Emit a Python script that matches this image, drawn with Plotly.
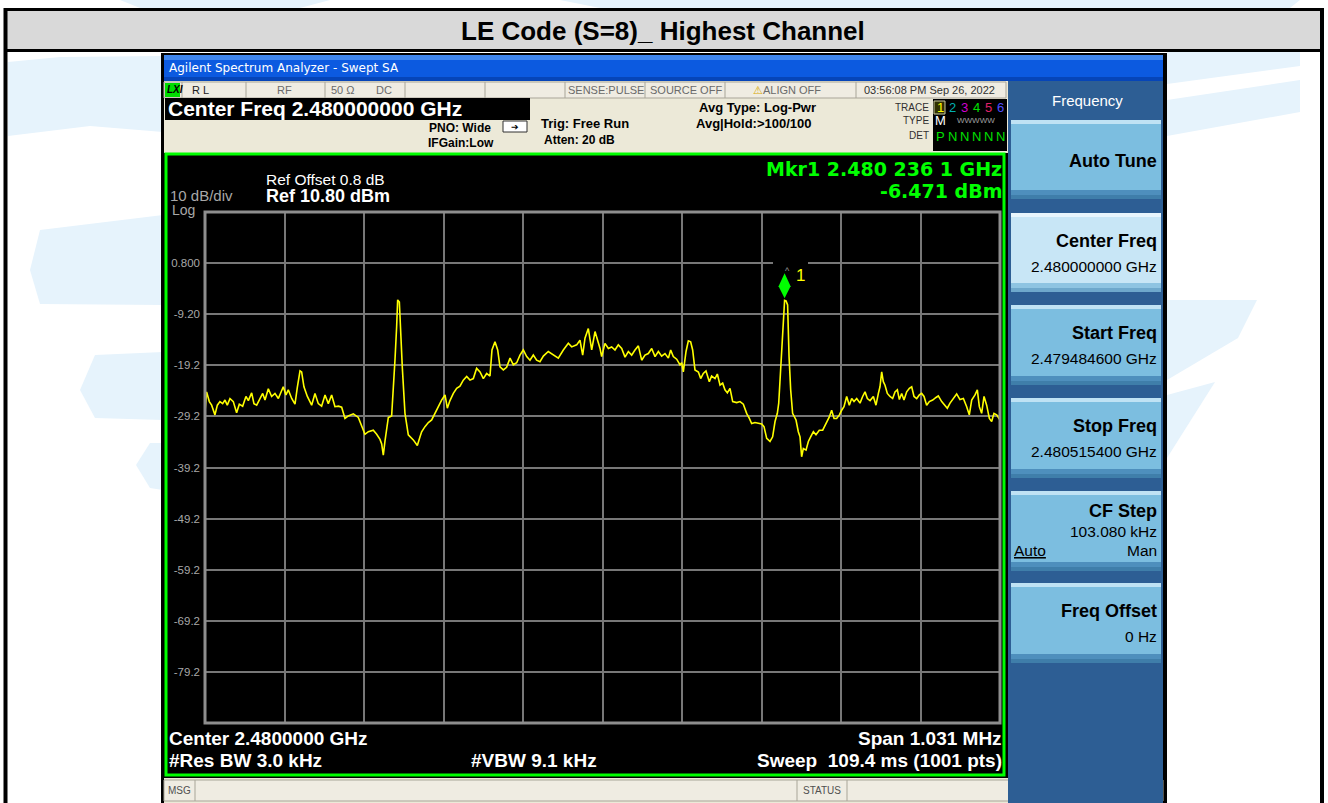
import plotly.graph_objects as go

# ---------------- data ----------------
center_freq_ghz = 2.48
span_khz = 1030.8
ref_level_dbm = 10.8
db_per_div = 10

freq_offset_khz = [
    -515.4, -513.3, -509.8, -506.8, -502.5, -499.4, -496.0, -492.5, -489.5, -486.5,
    -483.0, -478.7, -474.4, -470.9, -466.6, -462.3, -459.2, -454.9, -451.9, -448.4,
    -444.1, -440.6, -437.6, -433.3, -429.0, -424.7, -420.3, -413.9, -410.4, -407.4,
    -403.0, -398.7, -395.7, -392.2, -390.1, -387.1, -382.7, -377.1, -372.8, -368.5,
    -364.2, -359.8, -355.5, -351.2, -346.9, -342.5, -338.2, -333.9, -329.6, -323.1,
    -316.6, -313.6, -308.0, -303.6, -297.2, -292.8, -288.5, -286.3, -284.2, -282.0,
    -277.7, -273.4, -271.2, -269.1, -266.9, -265.6, -263.4, -261.7, -259.5, -256.1,
    -251.8, -245.3, -240.1, -236.6, -234.5, -230.2, -225.8, -221.5, -217.2, -212.9,
    -208.6, -204.2, -201.2, -197.8, -193.4, -189.1, -184.8, -180.5, -176.1, -171.8,
    -167.5, -163.2, -158.8, -154.5, -150.2, -145.9, -143.3, -139.4, -135.9, -132.9,
    -128.6, -124.3, -119.9, -115.6, -111.3, -107.0, -102.7, -98.3, -94.0, -89.7,
    -85.4, -81.1, -76.7, -70.3, -63.8, -57.3, -50.8, -44.3, -40.0, -33.5,
    -29.2, -25.7, -22.7, -18.4, -14.0, -9.7, -5.4, -3.2, -1.1, 3.2,
    7.6, 11.9, 16.2, 20.5, 24.9, 29.2, 33.5, 37.8, 42.1, 46.5,
    50.8, 55.1, 59.4, 63.8, 68.1, 72.4, 76.7, 81.0, 85.4, 88.4,
    91.8, 96.2, 100.5, 102.7, 104.8, 108.3, 111.3, 114.3, 116.9, 119.9,
    124.3, 127.3, 130.7, 134.2, 138.5, 141.5, 145.9, 148.9, 152.4, 155.8,
    158.8, 161.9, 165.3, 168.8, 174.0, 178.3, 182.6, 186.9, 190.4, 193.4,
    197.7, 202.1, 206.4, 209.4, 212.9, 217.2, 220.6, 223.7, 226.7, 228.5,
    230.3, 232.4, 234.4, 236.1, 238.0, 240.0, 241.9, 244.0, 246.5, 250.9,
    253.9, 256.1, 258.2, 260.4, 263.9, 266.9, 269.9, 273.4, 276.8, 281.1,
    285.5, 289.8, 294.1, 297.1, 300.2, 303.6, 307.1, 310.1, 313.1, 316.6,
    320.0, 323.1, 326.1, 329.6, 333.9, 337.3, 340.4, 343.4, 346.9, 351.2,
    354.6, 357.7, 359.8, 362.0, 364.1, 366.3, 369.3, 372.8, 376.2, 379.3,
    382.3, 384.9, 387.9, 390.9, 394.4, 397.9, 400.9, 403.9, 407.4, 410.8,
    413.8, 416.9, 420.3, 423.8, 428.1, 432.4, 435.4, 439.8, 444.1, 447.1,
    450.6, 454.9, 459.2, 463.5, 467.9, 472.2, 475.6, 478.7, 483.0, 486.0,
    488.6, 491.6, 494.7, 498.1, 501.6, 504.6, 507.6, 511.1, 514.5, 515.4,
]
level_dbm = [
    -28.3, -24.4, -26.3, -27.0, -28.9, -27.0, -26.3, -26.7, -26.0, -27.0,
    -25.7, -26.3, -28.5, -26.8, -27.2, -25.3, -26.1, -24.6, -26.7, -27.0,
    -25.7, -24.7, -26.0, -23.8, -25.3, -24.7, -25.7, -23.4, -25.0, -24.0,
    -25.7, -26.8, -23.5, -20.3, -20.5, -23.4, -25.3, -27.0, -24.7, -26.7,
    -27.2, -25.0, -26.7, -25.0, -27.3, -27.2, -27.4, -29.6, -29.1, -28.7,
    -29.4, -30.6, -32.7, -32.2, -31.9, -32.7, -33.7, -34.6, -36.8, -34.0,
    -29.4, -29.1, -24.0, -18.2, -11.6, -6.4, -6.8, -14.3, -19.8, -28.6,
    -32.8, -33.8, -34.9, -33.2, -32.2, -31.2, -30.4, -29.9, -28.6, -27.3,
    -26.0, -25.0, -27.6, -26.1, -24.7, -23.7, -23.3, -22.1, -21.4, -22.1,
    -21.8, -19.8, -20.5, -21.8, -20.8, -21.3, -16.2, -14.6, -16.2, -19.5,
    -20.1, -19.6, -17.8, -19.1, -18.7, -17.2, -16.2, -17.5, -18.2, -17.2,
    -18.2, -18.5, -17.4, -16.5, -17.2, -17.8, -16.2, -14.9, -15.6, -15.2,
    -14.3, -17.2, -13.9, -12.0, -16.2, -12.6, -14.8, -15.9, -17.5, -14.9,
    -15.9, -15.6, -16.2, -15.2, -15.9, -17.6, -16.5, -17.2, -16.2, -15.4,
    -18.2, -17.2, -16.9, -15.9, -17.5, -16.5, -17.4, -16.9, -17.8, -16.2,
    -17.5, -18.0, -19.1, -18.7, -20.5, -16.5, -14.4, -14.6, -16.2, -20.1,
    -20.5, -21.8, -20.8, -20.3, -22.4, -21.3, -21.8, -20.9, -23.1, -22.7,
    -24.0, -24.6, -23.7, -26.3, -26.5, -26.3, -26.8, -28.6, -29.6, -30.6,
    -30.4, -30.6, -30.7, -31.2, -33.5, -34.1, -33.2, -30.2, -28.6, -26.6,
    -21.4, -16.9, -10.3, -6.5, -6.6, -7.4, -17.5, -24.0, -28.6, -29.9,
    -32.2, -33.2, -37.1, -35.5, -35.8, -34.1, -33.2, -32.2, -32.8, -31.9,
    -31.9, -30.7, -29.3, -28.0, -29.6, -29.6, -28.9, -28.0, -27.3, -25.3,
    -27.0, -25.7, -26.3, -25.7, -26.6, -25.3, -24.4, -25.7, -26.1, -25.3,
    -27.0, -24.7, -23.4, -20.5, -22.4, -23.1, -24.7, -25.3, -25.7, -24.4,
    -24.0, -25.9, -24.7, -26.0, -24.4, -23.7, -23.4, -25.3, -25.7, -25.0,
    -24.7, -25.3, -27.0, -26.3, -26.0, -25.5, -25.2, -26.3, -27.0, -27.6,
    -26.6, -25.7, -24.8, -25.9, -25.7, -27.3, -28.9, -26.0, -25.0, -24.0,
    -27.3, -28.6, -25.3, -27.0, -29.6, -30.2, -28.6, -28.9, -29.9, -29.9,
]
marker_freq_offset_khz = 236.1
marker_level_dbm = -6.471
y_tick_vals = [0.8, -9.2, -19.2, -29.2, -39.2, -49.2, -59.2, -69.2, -79.2]
y_tick_text = ["0.800", "-9.20", "-19.2", "-29.2", "-39.2", "-49.2", "-59.2", "-69.2", "-79.2"]

softkeys = [
    ("Auto Tune", None),
    ("Center Freq", "2.480000000 GHz"),
    ("Start Freq", "2.479484600 GHz"),
    ("Stop Freq", "2.480515400 GHz"),
    ("CF Step", "103.080 kHz"),
    ("Freq Offset", "0 Hz"),
]

# ---------------- layout geometry (pixels) ----------------
W, H = 1328, 803
PL, PR, PT, PB = 205, 1000, 212, 723


def px(x):
    return (x - PL) / (PR - PL)


def py(y):
    return (PB - y) / (PB - PT)


shapes = []
annotations = []
FONT = "Liberation Sans, Arial, sans-serif"
WIDE = "DejaVu Sans, Liberation Sans, sans-serif"


def rect(x0, y0, x1, y1, fill=None, line=None, lw=0, layer="below"):
    shapes.append(dict(
        type="rect", xref="paper", yref="paper",
        x0=px(x0), x1=px(x1), y0=py(y1), y1=py(y0),
        fillcolor=fill if fill else "rgba(0,0,0,0)",
        line=dict(color=line if line else "rgba(0,0,0,0)", width=lw),
        layer=layer))


def hline(x0, x1, y, color, lw=1, layer="below"):
    shapes.append(dict(type="line", xref="paper", yref="paper",
                       x0=px(x0), x1=px(x1), y0=py(y), y1=py(y),
                       line=dict(color=color, width=lw), layer=layer))


def vline(x, y0, y1, color, lw=1, layer="below"):
    shapes.append(dict(type="line", xref="paper", yref="paper",
                       x0=px(x), x1=px(x), y0=py(y0), y1=py(y1),
                       line=dict(color=color, width=lw), layer=layer))


def poly(points, fill, layer="below"):
    d = "M " + " L ".join(f"{px(x):.5f},{py(y):.5f}" for x, y in points) + " Z"
    shapes.append(dict(type="path", xref="paper", yref="paper", path=d,
                       fillcolor=fill, line=dict(width=0), layer=layer))


def text(t, x, y, size, color="#000000", anchor="left", bold=False, family=FONT):
    if bold:
        t = f"<b>{t}</b>"
    annotations.append(dict(text=t, x=px(x), y=py(y), xref="paper", yref="paper",
                            xanchor=anchor, yanchor="middle", showarrow=False,
                            font=dict(size=size, color=color, family=family),
                            borderpad=0))


# ---- light-blue watermark in page background ----
WM = "#e6f3fc"
poly([(120, 0), (330, 0), (300, 8), (140, 8)], WM)
poly([(560, 0), (1300, 0), (1290, 8), (600, 8)], WM)
poly([(8, 62), (60, 57), (163, 56), (163, 132), (90, 126), (8, 136)], WM)
poly([(40, 230), (163, 215), (163, 305), (40, 304), (30, 270)], WM)
poly([(95, 355), (163, 352), (163, 420), (95, 418), (80, 390)], WM)
poly([(150, 443), (163, 443), (163, 490), (150, 488), (136, 465)], WM)
poly([(1167, 52), (1300, 52), (1300, 66), (1167, 84)], WM)
poly([(1167, 100), (1300, 80), (1300, 112), (1167, 136)], WM)
poly([(1167, 300), (1257, 300), (1238, 338), (1167, 380)], WM)
poly([(1167, 395), (1215, 382), (1167, 458)], WM)

# ---- table frame & header ----
rect(6, 10, 1322, 50, fill="#d9d9d9")
hline(4, 1324, 9.5, "#000000", 3)
hline(4, 1324, 50.5, "#000000", 3)
vline(5.5, 8, 803, "#000000", 4)
vline(1322, 8, 803, "#000000", 4)
text("LE Code (S=8)_ Highest Channel", 663, 31, 26, "#000000", "center", True)

# ---- analyzer window ----
rect(161, 53, 1167, 803, fill="#000000")
rect(164, 55, 1163, 81, fill="#0c5ae0")
rect(164, 55, 1163, 60, fill="#3f86ee")
rect(164, 77, 1163, 81, fill="#0645b8")
text("Agilent Spectrum Analyzer - Swept SA", 168, 68, 12, "#ffffff", "left", False, WIDE)

# beige control area
rect(164, 81, 1008, 153, fill="#ece9d8")
rect(164, 82, 1006, 98, fill="#efece2", line="#a8a598", lw=1)
for xd in [182, 246, 325, 405, 485, 565, 645, 725, 856]:
    vline(xd, 82, 98, "#a8a598", 1)
rect(165, 83, 180, 97, fill="#00dd00")
text("<i>LXI</i>", 166, 90, 10, "#000000", "left", True)
text("R L", 200, 90, 11, "#202020", "center")
text("RF", 284, 90, 11, "#6a6a6a", "center")
text("50 Ω", 343, 90, 11, "#6a6a6a", "center")
text("DC", 384, 90, 11, "#6a6a6a", "center")
text("SENSE:PULSE", 606, 90, 11, "#6a6a6a", "center")
text("SOURCE OFF", 686, 90, 11, "#6a6a6a", "center")
text("<span style='color:#d8a800'>⚠</span>ALIGN OFF", 787, 90, 11, "#6a6a6a", "center")
text("03:56:08 PM Sep 26, 2022", 929, 90, 11, "#303030", "center")

rect(165, 98, 530, 120, fill="#000000")
text("Center Freq 2.480000000 GHz", 167, 109, 21, "#ffffff", "left", True)
text("PNO: Wide", 428, 128, 12, "#000000", "left", True)
text("IFGain:Low", 427, 143, 12, "#000000", "left", True)
rect(503, 121, 527, 132, fill="#ffffff", line="#303030", lw=1)
text("➔", 515, 127, 9, "#000000", "center")
text("Trig: Free Run", 540, 123, 13, "#000000", "left", True)
text("Atten: 20 dB", 543, 140, 12, "#000000", "left", True)
text("Avg Type: Log-Pwr", 698, 107, 13, "#000000", "left", True)
text("Avg|Hold:>100/100", 695, 123, 13, "#000000", "left", True)

text("TRACE", 930, 107, 10, "#303030", "right")
text("TYPE", 930, 121, 10, "#303030", "right")
text("DET", 930, 135, 10, "#303030", "right")
rect(933, 99, 1007, 151, fill="#000000")
rect(934, 101, 945, 114, line="#c8c8a0", lw=1, fill="#303000")
trace_cols = ["#ffff00", "#00b0b0", "#d000d0", "#00e000", "#e0206a", "#5050ff"]
for i, c in enumerate(trace_cols):
    text(str(i + 1), 940 + i * 12, 107, 13, c, "center")
text("M", 940, 121, 13, "#ffffff", "center")
text("WWWWW", 976, 121, 8, "#a0a0a0", "center")
text("P", 940, 136, 13, "#00e000", "center")
for i in range(5):
    text("N", 952 + i * 12, 136, 13, "#00e000", "center")

# graticule window with green frame
rect(166, 154, 1004, 775, fill="#000000", line="#00ff00", lw=3)
text("Ref Offset 0.8 dB", 265, 179, 15.5, "#ffffff", "left")
text("Ref 10.80 dBm", 265, 196, 18, "#ffffff", "left", True)
text("10 dB/div", 169, 195, 15, "#a8a8a8", "left")
text("Log", 171, 210, 14, "#a8a8a8", "left")
text("Mkr1 2.480 236 1 GHz", 1003, 169, 19, "#00ff00", "right", True, WIDE)
text("-6.471 dBm", 1003, 191, 19, "#00ff00", "right", True, WIDE)
text("Center 2.4800000 GHz", 168, 738, 19, "#ffffff", "left", True)
text("Span 1.031 MHz", 1003, 738, 19, "#ffffff", "right", True)
text("#Res BW 3.0 kHz", 168, 760, 19, "#ffffff", "left", True)
text("#VBW 9.1 kHz", 470, 760, 19, "#ffffff", "left", True)
text("Sweep  109.4 ms (1001 pts)", 1003, 760, 19, "#ffffff", "right", True)

# bottom status bar
rect(164, 778, 1163, 803, fill="#ece9d8")
rect(164, 780, 1163, 801, fill="#efece2", line="#a8a598", lw=1)
vline(195, 780, 801, "#a8a598", 1)
vline(797, 780, 801, "#a8a598", 1)
vline(847, 780, 801, "#a8a598", 1)
text("MSG", 167, 790, 10, "#505050", "left")
text("STATUS", 822, 790, 10, "#505050", "center")

# right softkey panel
rect(1008, 81, 1163, 803, fill="#2d5e94")
text("Frequency", 1087, 100, 15, "#ffffff", "center")
btn_y = [(120, 199), (213, 292), (305, 385), (398, 478), (491, 571), (583, 663)]
for i, ((title, value), (y0, y1)) in enumerate(zip(softkeys, btn_y)):
    selected = (i == 1)
    main = "#c8e6f6" if selected else "#7cbee0"
    top = "#e8f5fc" if selected else "#bfe2f4"
    bot = "#8ec4e2" if selected else "#4e8fbd"
    rect(1011, y0, 1161, y1, fill=main)
    rect(1011, y0, 1161, y0 + 4, fill=top)
    rect(1011, y1 - 9, 1161, y1 - 4, fill=bot)
    rect(1011, y1 - 4, 1161, y1, fill="#3f7eaa" if not selected else "#6ea8cc")
    if value is None:
        text(title, 1158, (y0 + y1) / 2 + 1, 18, "#000000", "right", True)
    elif title == "CF Step":
        text(title, 1158, y0 + 20, 18, "#000000", "right", True)
        text(value, 1158, y0 + 40, 15.5, "#000000", "right")
        text("<u>Auto</u>", 1013, y0 + 59, 15.5, "#000000", "left")
        text("Man", 1158, y0 + 59, 15.5, "#000000", "right")
    else:
        text(title, 1158, y0 + 28, 18, "#000000", "right", True)
        text(value, 1158, y0 + 53, 15.5, "#000000", "right")

# plot border (above grid)
shapes.append(dict(type="rect", xref="paper", yref="paper", x0=0, x1=1, y0=0, y1=1,
                   line=dict(color="#8e8e8e", width=3), layer="above"))
# gap in the grid line behind the marker number
rect(773, 260, 808, 266, fill="#000000", layer="above")

# marker diamond anchored on the marker point
shapes.append(dict(type="path", xref="x", yref="y",
                   xsizemode="pixel", ysizemode="pixel",
                   xanchor=marker_freq_offset_khz, yanchor=marker_level_dbm,
                   path="M 0,2 L 6,14 L 0,27 L -6,14 Z",
                   fillcolor="#00ff00", line=dict(width=0), layer="above"))
text("1", 800, 275, 17, "#ffff00", "center")
text("^", 787, 271, 9, "#9a9a9a", "center")

# ---------------- figure ----------------
fig = go.Figure()
fig.add_trace(go.Scatter(x=freq_offset_khz, y=level_dbm, mode="lines",
                         line=dict(color="#ffff00", width=1.6), hoverinfo="skip",
                         showlegend=False))

half = span_khz / 2
div = span_khz / 10
fig.update_layout(
    template="none",
    width=W, height=H,
    margin=dict(l=PL, r=W - PR, t=PT, b=H - PB, pad=0),
    paper_bgcolor="#ffffff",
    plot_bgcolor="#000000",
    shapes=shapes,
    annotations=annotations,
    showlegend=False,
    xaxis=dict(range=[-half, half], tickvals=[-half + k * div for k in range(1, 10)],
               showticklabels=False, ticks="", showgrid=True, gridcolor="#777777",
               gridwidth=1.5, zeroline=False, showline=False, automargin=False,
               fixedrange=True),
    yaxis=dict(range=[ref_level_dbm - 10 * db_per_div, ref_level_dbm],
               tickvals=y_tick_vals, ticktext=y_tick_text, ticks="",
               tickfont=dict(size=11.5, color="#a8a8a8", family=FONT),
               showgrid=True, gridcolor="#777777", gridwidth=1.5, zeroline=False,
               showline=False, automargin=False, fixedrange=True,
               ticklabelstandoff=4),
)

fig.write_html("out.html", config={"displayModeBar": False},
               post_script="document.body.style.margin='0px';"
                           "document.body.style.overflow='hidden';")
